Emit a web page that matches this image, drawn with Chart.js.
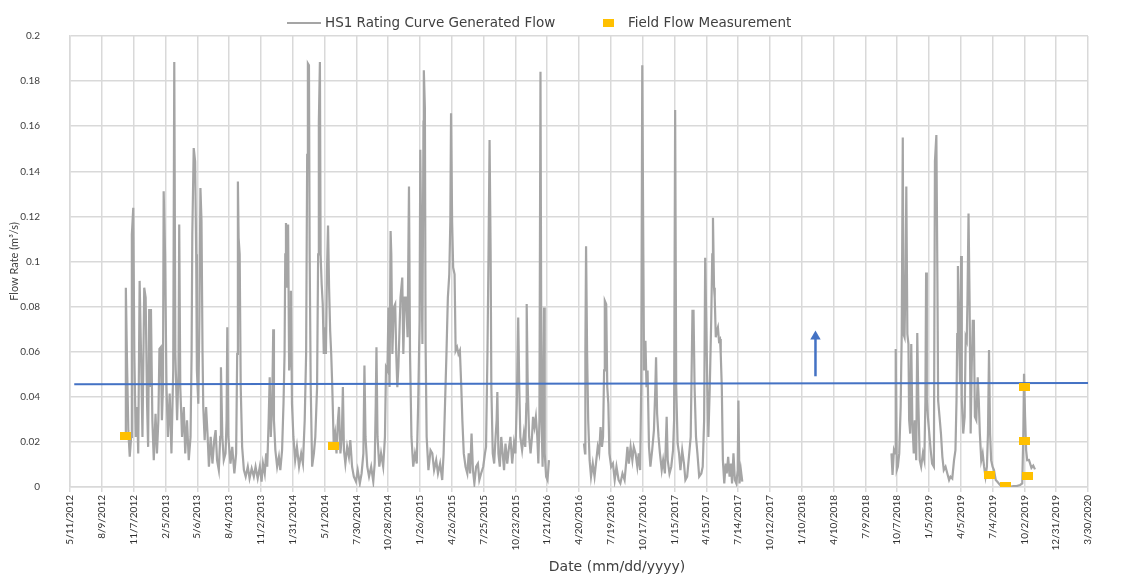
<!DOCTYPE html>
<html lang="en">
<head>
  <meta charset="UTF-8">
  <title>HS1 Rating Curve Generated Flow</title>
  <style>
    html, body { margin: 0; padding: 0; background: #ffffff; }
    #chartWrap { width: 1124px; height: 577px; }
  </style>
</head>
<body>

<div id="chartWrap">
  <canvas id="flowChart" width="1124" height="577"></canvas>
</div>

<script src="https://cdn.jsdelivr.net/npm/chart.js"></script>
<script>
  // Day 0 of the x axis is 5/11/2012, ticks every 90 days up to 3/30/2020
  const startDate = Date.UTC(2012, 4, 11);
  const tickStepDays = 90;
  const lastTickDay = 2880;
  const yTicks = { min: 0, max: 0.2, step: 0.02 };

  const seriesNames = ['HS1 Rating Curve Generated Flow', 'Field Flow Measurement'];
  const xTitle = 'Date (mm/dd/yyyy)';
  const yTitle = 'Flow Rate (m\u00b3/s)';

  // rating curve flow, days since 5/11/2012 (null = no record)
  const flowDays = [
    157, 158, 161, 165, 169, 173, 175, 179, 182, 186, 190, 193, 197, 201, 205, 210, 214, 218, 221, 224,
    226, 229, 233, 237, 242, 246, 250, 253, 257, 260, 263, 265, 269, 273, 277, 282, 287, 292, 295, 298,
    303, 307, 309, 312, 317, 322, 326, 331, 336, 341, 344, 346, 350, 354, 357, 359, 363, 366, 369, 372,
    375, 377, 381, 385, 389, 393, 398, 403, 408, 412, 416, 421, 425, 427, 431, 435, 440, 443, 445, 448,
    454, 459, 465, 470, 473, 475, 477, 480, 483, 487, 492, 497, 503, 508, 514, 520, 525, 531, 537, 542,
    546, 551, 555, 558, 562, 565, 568, 572, 575, 577, 581, 586, 591, 595, 600, 604, 607, 609, 611, 614,
    617, 620, 623, 625, 628, 632, 637, 642, 648, 654, 659, 664, 668, 671, 673, 676, 678, 681, 685, 690,
    694, 699, 702, 704, 707, 709, 712, 715, 718, 721, 724, 727, 730, 733, 736, 739, 742, 746, 750, 754,
    758, 761, 765, 769, 772, 775, 779, 784, 789, 793, 798, 803, 809, 814, 820, 825, 830, 833, 836, 841,
    846, 852, 858, 862, 865, 867, 870, 875, 880, 886, 891, 894, 898, 901, 904, 907, 909, 912, 916, 920,
    923, 926, 929, 935, 940, 943, 947, 951, 955, 959, 962, 966, 971, 976, 981, 985, 989, 991, 994, 997,
    1000, 1001, 1004, 1006, 1009, 1014, 1020, 1025, 1030, 1036, 1041, 1047, 1053, 1057, 1061, 1065, 1069, 1073, 1076, 1078,
    1081, 1084, 1088, 1091, 1095, 1099, 1103, 1107, 1110, 1114, 1119, 1124, 1128, 1132, 1136, 1140, 1144, 1149, 1154, 1158,
    1163, 1169, 1174, 1177, 1181, 1184, 1187, 1190, 1192, 1196, 1200, 1204, 1207, 1209, 1212, 1216, 1220, 1224, 1228, 1232,
    1237, 1241, 1246, 1251, 1256, 1260, 1264, 1268, 1271, 1274, 1279, 1284, 1288, 1291, 1292, 1295, 1299, 1303, 1307, 1310,
    1314, 1318, 1322, 1325, 1328, 1331, 1334, 1337, 1341, 1343, 1347, 1351, 1355,
    1400,
    1454, 1457, 1458, 1460, 1463, 1466, 1470, 1474, 1479, 1484, 1489, 1493, 1497, 1501, 1505, 1508, 1511, 1513, 1517, 1520,
    1523, 1526, 1531, 1536, 1541, 1546, 1552, 1557, 1563, 1569, 1574, 1577, 1581, 1586, 1591, 1595, 1600, 1605, 1609, 1613,
    1616, 1619, 1622, 1624, 1628, 1631, 1634, 1638, 1642, 1647, 1652, 1656, 1658, 1661, 1665, 1669, 1674, 1678, 1683, 1688,
    1691, 1696, 1701, 1706, 1709, 1712, 1715, 1719, 1723, 1727, 1732, 1737, 1741, 1746, 1751, 1756, 1758, 1761, 1764, 1767,
    1771, 1775, 1780, 1786, 1790, 1794, 1797, 1800, 1803, 1806, 1810, 1814, 1817, 1819, 1822, 1824, 1827, 1830, 1833, 1836,
    1839, 1841, 1844, 1847, 1851, 1855, 1858, 1862, 1866, 1870, 1873, 1877, 1881, 1885, 1889, 1891, 1894, 1898, 1902,
    2100,
    2324, 2327, 2331, 2334, 2336, 2339, 2342, 2346, 2350, 2353, 2356, 2358, 2361, 2364, 2366, 2369, 2372, 2374, 2377, 2380,
    2383, 2387, 2390, 2394, 2397, 2400, 2404, 2408, 2413, 2417, 2420, 2422, 2424, 2427, 2431, 2435, 2439, 2444, 2447, 2451,
    2454, 2456, 2460, 2464, 2468, 2472, 2477, 2482, 2487, 2491, 2496, 2501, 2505, 2508, 2510, 2512, 2515, 2518, 2521, 2523,
    2527, 2531, 2534, 2537, 2539, 2542, 2545, 2548, 2551, 2554, 2557, 2560, 2564, 2568, 2571, 2574, 2578, 2582, 2586, 2590,
    2594, 2597, 2600, 2603, 2606, 2610, 2614, 2619, 2623, 2631, 2640, 2650, 2659, 2669, 2678, 2688, 2694, 2697, 2699, 2702,
    2705, 2708, 2713, 2720, 2725, 2730
  ];
  const flowValues = [
    0.0222, 0.0884, 0.0583, 0.0252, 0.0134, 0.0222, 0.112, 0.1238, 0.059, 0.0222, 0.0355, 0.0149, 0.0914, 0.059, 0.0222, 0.0884, 0.084, 0.0369, 0.0178, 0.0789,
    0.0443, 0.0789, 0.0296, 0.0119, 0.0325, 0.0149, 0.0296, 0.0612, 0.062, 0.0296, 0.0443, 0.1311, 0.1032, 0.0443, 0.0222, 0.0414, 0.0149, 0.0517, 0.1885, 0.059,
    0.0296, 0.0517, 0.1164, 0.0443, 0.0222, 0.0355, 0.0149, 0.0296, 0.0119, 0.0222, 0.059, 0.112, 0.1503, 0.1444, 0.1032, 0.0517, 0.0369, 0.0737, 0.1326, 0.1179,
    0.059, 0.0355, 0.0208, 0.0355, 0.0237, 0.009, 0.0222, 0.0104, 0.0208, 0.0252, 0.0119, 0.0075, 0.0222, 0.0531, 0.0222, 0.0119, 0.0149, 0.0296, 0.0708, 0.0222,
    0.0104, 0.0178, 0.006, 0.0149, 0.059, 0.1355, 0.1105, 0.1032, 0.0443, 0.0178, 0.0075, 0.0046, 0.009, 0.0038, 0.0082, 0.0046, 0.009, 0.0038, 0.009, 0.0024,
    0.0104, 0.006, 0.0149, 0.009, 0.0296, 0.0487, 0.0222, 0.0369, 0.07, 0.0296, 0.0163, 0.009, 0.0134, 0.0075, 0.0163, 0.0369, 0.059, 0.1032, 0.1171, 0.0884,
    0.1164, 0.0517, 0.059, 0.087, 0.0369, 0.0222, 0.0119, 0.0178, 0.009, 0.0149, 0.0104, 0.0296, 0.059, 0.1473, 0.1878, 0.187, 0.1032, 0.0443, 0.009, 0.0149,
    0.0222, 0.0443, 0.1032, 0.162, 0.1885, 0.1032, 0.0899, 0.0811, 0.059, 0.0708, 0.059, 0.0958, 0.116, 0.0884, 0.0693, 0.059, 0.0443, 0.0193, 0.0237, 0.0149,
    0.0296, 0.0355, 0.0149, 0.0222, 0.0443, 0.0163, 0.0104, 0.0178, 0.0134, 0.0208, 0.009, 0.0046, 0.0024, 0.0075, 0.0016, 0.006, 0.0149, 0.0539, 0.0222, 0.009,
    0.0046, 0.009, 0.0024, 0.0104, 0.0369, 0.062, 0.0222, 0.009, 0.0149, 0.009, 0.0222, 0.0531, 0.0517, 0.0796, 0.0443, 0.1135, 0.1032, 0.059, 0.0796, 0.0811,
    0.059, 0.0443, 0.0531, 0.084, 0.0929, 0.059, 0.084, 0.084, 0.0664, 0.1333, 0.059, 0.0222, 0.009, 0.0149, 0.0104, 0.0369, 0.0737, 0.1495, 0.1032, 0.0634,
    0.162, 0.1848, 0.1679, 0.0634, 0.0222, 0.0075, 0.0163, 0.0149, 0.0075, 0.0119, 0.006, 0.0104, 0.0031, 0.0149, 0.0369, 0.059, 0.084, 0.0943, 0.1179, 0.1657,
    0.1179, 0.0973, 0.0943, 0.0605, 0.062, 0.059, 0.0605, 0.0443, 0.0296, 0.0149, 0.009, 0.006, 0.0149, 0.006, 0.0237, 0.0075, 0.0016, 0.009, 0.0104, 0.0031,
    0.006, 0.009, 0.0149, 0.0178, 0.059, 0.1032, 0.1539, 0.1032, 0.0443, 0.0149, 0.0104, 0.0222, 0.0296, 0.0421, 0.0149, 0.009, 0.0222, 0.0149, 0.0075, 0.0193,
    0.0104, 0.0163, 0.0222, 0.0104, 0.0193, 0.0149, 0.0369, 0.0752, 0.0443, 0.0222, 0.0163, 0.0237, 0.0178, 0.0369, 0.0811, 0.0443, 0.0222, 0.0149, 0.0222, 0.0311,
    0.0266, 0.0311, 0.0222, 0.0104, 0.0296, 0.1841, 0.0296, 0.009, 0.0796, 0.0149, 0.0046, 0.0031, 0.0119,
    null,
    0.0193, 0.0149, 0.059, 0.1068, 0.059, 0.0296, 0.0119, 0.0046, 0.0104, 0.0046, 0.0119, 0.0178, 0.0149, 0.0266, 0.0178, 0.0222, 0.0517, 0.0826, 0.0811, 0.0443,
    0.0369, 0.0149, 0.009, 0.0104, 0.0031, 0.009, 0.0031, 0.0016, 0.006, 0.0031, 0.0119, 0.0178, 0.0104, 0.0178, 0.0119, 0.0178, 0.0149, 0.009, 0.0149, 0.0075,
    0.0443, 0.187, 0.1032, 0.0517, 0.0649, 0.0443, 0.0517, 0.0178, 0.009, 0.0163, 0.0252, 0.0443, 0.0575, 0.0325, 0.0222, 0.0149, 0.0075, 0.0119, 0.006, 0.0311,
    0.0119, 0.006, 0.009, 0.0163, 0.0296, 0.1672, 0.0443, 0.0193, 0.0149, 0.0075, 0.0163, 0.0104, 0.0031, 0.0046, 0.0134, 0.0222, 0.0443, 0.0781, 0.0781, 0.0443,
    0.0222, 0.0149, 0.0046, 0.006, 0.009, 0.0296, 0.1017, 0.0737, 0.0443, 0.0222, 0.0443, 0.0737, 0.1032, 0.1194, 0.0884, 0.084, 0.0664, 0.0693, 0.0708, 0.0649,
    0.0656, 0.059, 0.0443, 0.0119, 0.0016, 0.0104, 0.006, 0.0134, 0.0046, 0.0104, 0.0016, 0.0149, 0.0031, 0.0016, 0.0075, 0.0384, 0.0016, 0.0075, 0.0024,
    null,
    0.0149, 0.0053, 0.0163, 0.0149, 0.0612, 0.0075, 0.009, 0.0149, 0.0355, 0.0678, 0.155, 0.0678, 0.0664, 0.0973, 0.1333, 0.0678, 0.0634, 0.0296, 0.0237, 0.0634,
    0.0296, 0.0149, 0.0296, 0.0119, 0.0683, 0.0384, 0.0119, 0.009, 0.0149, 0.0119, 0.0384, 0.0951, 0.0384, 0.0311, 0.0237, 0.0163, 0.0104, 0.009, 0.1444, 0.1561,
    0.0914, 0.0384, 0.0311, 0.0237, 0.0134, 0.0075, 0.009, 0.006, 0.0031, 0.0046, 0.0038, 0.0119, 0.0163, 0.0384, 0.0678, 0.098, 0.0678, 0.0458, 0.1024, 0.0384,
    0.0237, 0.0311, 0.0664, 0.0649, 0.0826, 0.1213, 0.0826, 0.0237, 0.0531, 0.0737, 0.0737, 0.0311, 0.0296, 0.0487, 0.0384, 0.0237, 0.0119, 0.0149, 0.009, 0.0046,
    0.009, 0.0237, 0.0608, 0.0237, 0.0119, 0.009, 0.0075, 0.0031, 0.0024, 0.0009, 0.0001, 0.0001, 0.0001, 0.0004, 0.0004, 0.0009, 0.0016, 0.0237, 0.0502, 0.0311,
    0.0163, 0.0119, 0.012, 0.0085, 0.0095, 0.0078
  ];

  // field measurements
  const fieldDates = ['2012-10-15', '2014-05-26', '2019-06-25', '2019-08-10', '2019-10-02', '2019-10-02', '2019-10-11'];
  const fieldValues = [0.0227, 0.0182, 0.0053, 0.0003, 0.0445, 0.0202, 0.0047];

  // horizontal blue reference line
  const refLineDays = [12, 2880];
  const refLineValues = [0.0456, 0.0461];

  // blue arrow
  const arrowDates = ['2018-02-18', '2018-02-18'];
  const arrowValues = [0.0491, 0.0667];

  const flowColor = '#a5a5a5';
  const fieldColor = '#ffc000';
  const blueColor = '#4472c4';
  const gridColor = '#d9d9d9';
  const textColor = '#404040';

  function dayOf(iso) {
    const p = iso.split('-').map(Number);
    return Math.round((Date.UTC(p[0], p[1] - 1, p[2]) - startDate) / 86400000);
  }
  function dayLabel(v) {
    const d = new Date(startDate + v * 86400000);
    return (d.getUTCMonth() + 1) + '/' + d.getUTCDate() + '/' + d.getUTCFullYear();
  }

  // small filled rectangle used as the field marker
  const squareMarker = document.createElement('canvas');
  squareMarker.width = 11;
  squareMarker.height = 8;
  const sctx = squareMarker.getContext('2d');
  sctx.fillStyle = fieldColor;
  sctx.fillRect(0, 0, 11, 8);

  // legend + x title drawn like the spreadsheet chart
  const sheetText = {
    id: 'sheetText',
    afterDraw(chart) {
      const c = chart.ctx;
      const area = chart.chartArea;
      c.save();
      c.fillStyle = textColor;
      c.textBaseline = 'middle';
      c.font = '13.5px "DejaVu Sans"';
      c.strokeStyle = flowColor;
      c.lineWidth = 2;
      c.beginPath();
      c.moveTo(287, 23);
      c.lineTo(321, 23);
      c.stroke();
      c.fillText(seriesNames[0], 325, 23);
      c.drawImage(squareMarker, 603, 19);
      c.fillText(seriesNames[1], 628, 23);

      c.font = '14px "DejaVu Sans"';
      c.textAlign = 'center';
      c.fillText(xTitle, (area.left + area.right) / 2 + 38, 567);
      c.restore();
    }
  };

  const ctx = document.getElementById('flowChart').getContext('2d');
  const chart = new Chart(ctx, {
    type: 'line',
    data: {
      datasets: [
        {
          label: seriesNames[1],
          data: fieldDates.map((d, i) => ({ x: dayOf(d), y: fieldValues[i] })),
          showLine: false,
          pointStyle: squareMarker,
          pointRadius: 5,
          borderColor: fieldColor,
          backgroundColor: fieldColor,
          order: 0
        },
        {
          label: 'reference',
          data: refLineDays.map((d, i) => ({ x: d, y: refLineValues[i] })),
          borderColor: blueColor,
          borderWidth: 2,
          pointRadius: 0,
          order: 1
        },
        {
          label: 'arrow',
          data: arrowDates.map((d, i) => ({ x: dayOf(d), y: arrowValues[i] })),
          borderColor: blueColor,
          backgroundColor: blueColor,
          borderWidth: 2.5,
          pointStyle: 'triangle',
          pointRadius: [0, 6],
          pointBorderWidth: 0,
          order: 1
        },
        {
          label: seriesNames[0],
          data: flowDays.map((d, i) => ({ x: d, y: flowValues[i] })),
          borderColor: flowColor,
          borderWidth: 2.2,
          pointRadius: 0,
          spanGaps: false,
          tension: 0,
          order: 3
        }
      ]
    },
    options: {
      responsive: false,
      animation: false,
      devicePixelRatio: 1,
      layout: { padding: { top: 34, right: 36, left: 0, bottom: 0 } },
      plugins: {
        legend: { display: false },
        tooltip: { enabled: false }
      },
      scales: {
        x: {
          type: 'linear',
          min: 0,
          max: lastTickDay,
          afterFit: scale => { scale.height = 90; },
          ticks: {
            stepSize: tickStepDays,
            autoSkip: false,
            maxRotation: 90,
            minRotation: 90,
            padding: 3,
            color: '#303030',
            font: { family: 'Lato', size: 10 },
            callback: v => dayLabel(v)
          },
          grid: { color: gridColor, lineWidth: 1.5, tickLength: 5, tickColor: gridColor },
          border: { color: gridColor, width: 1.5 }
        },
        y: {
          min: yTicks.min,
          max: yTicks.max,
          afterFit: scale => { scale.width = 70; },
          ticks: {
            stepSize: yTicks.step,
            padding: 30,
            color: textColor,
            font: { family: 'Lato', size: 10 },
            callback: v => String(+v.toFixed(2))
          },
          grid: { color: gridColor, lineWidth: 1.5, drawTicks: false },
          border: { color: gridColor, width: 1.5 },
          title: {
            display: true,
            text: yTitle,
            color: textColor,
            font: { family: 'Lato', size: 11 },
            padding: { top: 8 }
          }
        }
      }
    },
    plugins: [sheetText]
  });
</script>

</body>
</html>
